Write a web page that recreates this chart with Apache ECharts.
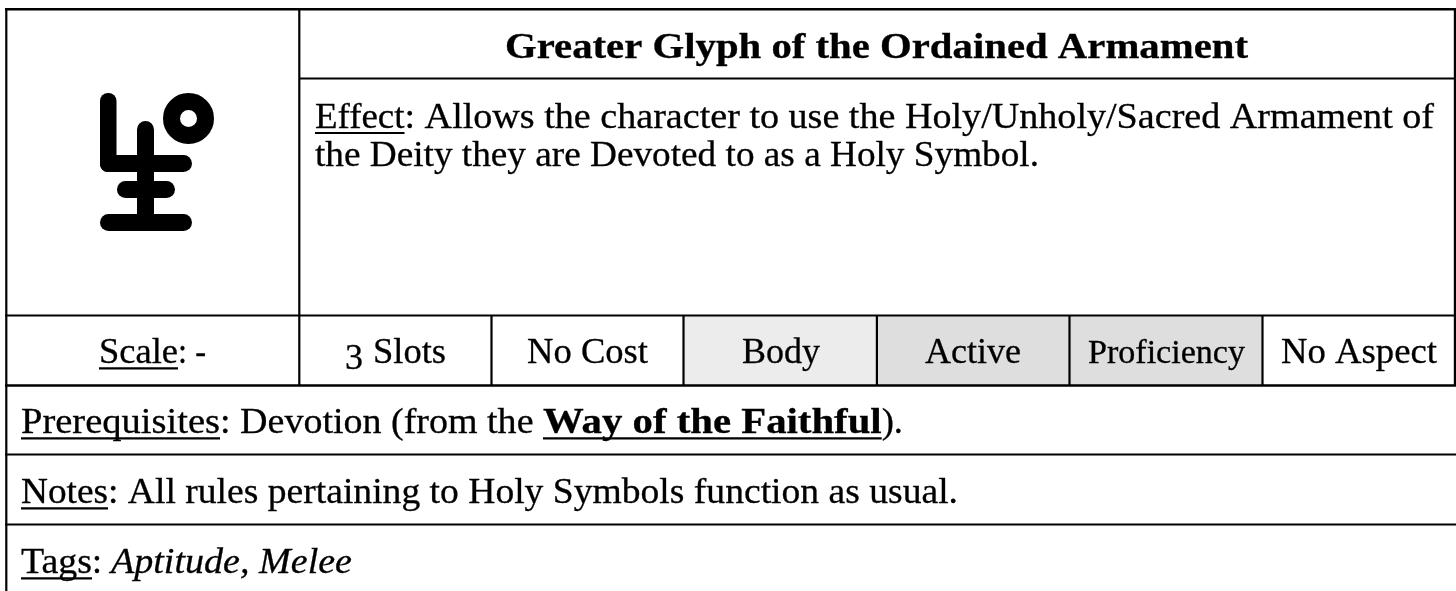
<!DOCTYPE html>
<html><head><meta charset="utf-8">
<style>html,body{margin:0;padding:0;background:#fff;overflow:hidden}#c{width:1456px;height:591px}</style>
<script src="https://cdn.jsdelivr.net/npm/echarts@6/dist/echarts.min.js"></script>
</head><body><div id="c"></div>
<script>
const titleText = 'Greater Glyph of the Ordained Armament';
const effectLabel = 'Effect';
const effectLine1 = ': Allows the character to use the Holy/Unholy/Sacred Armament of';
const effectLine2 = 'the Deity they are Devoted to as a Holy Symbol.';
const scaleLabel = 'Scale';
const scaleValue = ': -';
const statCells = ['3 Slots', 'No Cost', 'Body', 'Active', 'Proficiency', 'No Aspect'];
const statFills = ['#ffffff', '#ffffff', '#ececec', '#dedede', '#dedede', '#ffffff'];
const prereqParts = ['Prerequisites', ': Devotion (from the ', 'Way of the Faithful', ').'];
const notesParts = ['Notes', ': All rules pertaining to Holy Symbols function as usual.'];
const tagsParts = ['Tags', ': ', 'Aptitude, Melee'];

const FONT = '"Liberation Serif"';
const BLACK = '#000';
const measure = document.createElement('canvas').getContext('2d');
function fontOf(s) { return (s.i ? 'italic ' : '') + (s.b ? 'bold ' : '') + s.size + 'px ' + FONT; }
function widthOf(s) { measure.font = fontOf(s); return measure.measureText(s.t).width; }
function baseOff(s) { measure.font = fontOf(s); measure.textBaseline = 'middle'; const d = measure.measureText('H').actualBoundingBoxDescent; measure.textBaseline = 'alphabetic'; return d; }

const els = [];
function rect(x, y, w, h, fill, r) { els.push({ type: 'rect', shape: { x, y, width: w, height: h, r: r || 0 }, style: { fill }, silent: true }); }
// draw segments, each one fitted between consecutive edges, on one baseline
function run(segs, edges, base, size) {
  segs.forEach((s, i) => {
    s.size = s.size || size;
    const x = edges[i], w = edges[i + 1] - x;
    els.push({ type: 'text', x, y: base + (s.dy || 0) - baseOff(s), scaleX: w / widthOf(s), silent: true,
      style: { text: s.t, x: 0, y: 0, font: fontOf(s), fill: BLACK, stroke: BLACK, lineWidth: 0.3, textAlign: 'left', textVerticalAlign: 'middle' } });
    if (s.u) rect(x, base + 4.3, w, 2.2, BLACK);
  });
}

// cell fills
const statEdges = [299, 491, 683, 876.5, 1069, 1262, 1455];
statFills.forEach((f, i) => { if (f !== '#ffffff') rect(statEdges[i], 315, statEdges[i + 1] - statEdges[i], 70, f); });

// table rules
const hRules = [[5, 1456, 8, 2.6], [299, 1456, 77.4, 2], [5, 1456, 314.6, 2], [5, 1456, 384.3, 2.4], [5, 1456, 453.6, 2], [5, 1456, 523.6, 2]];
hRules.forEach(r => rect(r[0], r[2], r[1] - r[0], r[3], BLACK));
const vRules = [[5.2, 8, 591], [298.2, 8, 385], [490.4, 315, 385], [682.4, 315, 385], [875.8, 315, 385], [1068.4, 315, 385], [1261.4, 315, 385], [1453.8, 8, 385]];
vRules.forEach(r => rect(r[0], r[1], 2.2, r[2] - r[1], BLACK));

// glyph icon
rect(100, 93, 16.5, 79, BLACK, [8, 8, 0, 8]);
rect(100, 155, 92, 17, BLACK, [0, 8.5, 8.5, 8]);
rect(137, 121, 17, 110, BLACK, [8.5, 8.5, 0, 0]);
rect(117, 181, 58, 17, BLACK, 8.5);
rect(100, 214, 92, 17, BLACK, 8.5);
els.push({ type: 'circle', shape: { cx: 188.5, cy: 118.5, r: 17 }, style: { fill: '#fff', stroke: BLACK, lineWidth: 17 }, silent: true });

// text
const S = 36;
run([{ t: titleText, b: true }], [505, 1248], 57.8, 35);
run([{ t: effectLabel, u: true }, { t: effectLine1 }], [315, 404.5, 1434], 127.6, S);
run([{ t: effectLine2 }], [315, 1039], 165.6, S);
run([{ t: scaleLabel, u: true }, { t: scaleValue }], [99, 178, 206], 363, S);
const statSpans = [[345, 446], [527, 648], [742, 820], [925, 1021], [1088, 1245], [1281, 1437]];
statCells.forEach((t, i) => {
  if (i === 0) {
    const parts = t.split(' ');
    run([{ t: parts[0], dy: 6, size: S }], [345, 363], 363, S);
    run([{ t: parts[1] }], [373, 446], 363, S);
  } else run([{ t }], statSpans[i], 363, i === 4 ? 33 : S);
});
run([{ t: prereqParts[0], u: true }, { t: prereqParts[1] }, { t: prereqParts[2], b: true, u: true }, { t: prereqParts[3] }], [21, 220, 543, 881.7, 903], 433, S);
run([{ t: notesParts[0], u: true }, { t: notesParts[1] }], [21, 108, 958], 503, S);
run([{ t: tagsParts[0], u: true }, { t: tagsParts[1] }, { t: tagsParts[2], i: true }], [21, 92, 111, 352], 573, S);

const chart = echarts.init(document.getElementById('c'));
chart.setOption({ backgroundColor: '#fff', animation: false, graphic: { elements: els } });
</script></body></html>
